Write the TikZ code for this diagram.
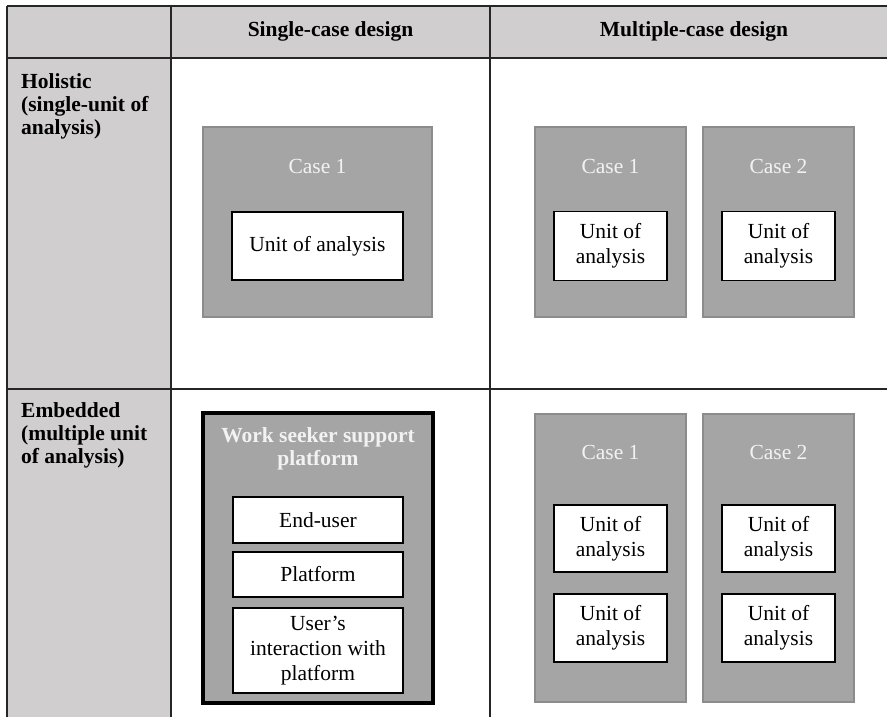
\documentclass[tikz,border=0pt]{standalone}
\usepackage{fontspec}
\setmainfont{Liberation Serif}
\definecolor{hdrfill}{HTML}{D0CECE}
\definecolor{casefill}{HTML}{A5A5A5}
\definecolor{caseline}{HTML}{8C8C8C}
\definecolor{casetext}{HTML}{F2F2F2}
\definecolor{gridline}{HTML}{262626}
\tikzset{
  grid/.style={draw=gridline, line width=2pt},
  casebox/.style={rectangle, fill=casefill, draw=caseline, line width=1.2pt, inner sep=0pt},
  platbox/.style={rectangle, fill=casefill, draw=black, line width=4pt, inner sep=0pt},
  unitbox/.style={rectangle, fill=white, draw=black, line width=1.4pt, inner sep=0pt, align=center,
     font=\fontsize{21.5}{25}\selectfont},
  casetitle/.style={text=casetext, font=\fontsize{21.5}{25}\selectfont, inner sep=0pt},
  plattitle/.style={text=casetext, font=\fontsize{21.5}{23}\selectfont\bfseries, align=center, inner sep=0pt},
  hdr/.style={font=\fontsize{21.5}{25}\selectfont\bfseries, inner sep=0pt},
  rowhdr/.style={font=\fontsize{21.5}{23}\selectfont\bfseries, align=left, inner sep=0pt, anchor=north west},
}
\begin{document}
\begin{tikzpicture}[x=1pt, y=-1pt]
\useasboundingbox (0,0) rectangle (887,717);
% table fills
\fill[hdrfill] (7,6) rectangle (887,58);
\fill[hdrfill] (7,58) rectangle (171,717);
% table lines
\coordinate (tl) at (7,6);
\coordinate (tr) at (887,6);
\coordinate (hl) at (7,58);
\coordinate (hr) at (887,58);
\coordinate (rl) at (7,389);
\coordinate (rr) at (887,389);
\coordinate (bl) at (7,717);
\coordinate (c1t) at (171,6);
\coordinate (c1b) at (171,717);
\coordinate (c2t) at (490,6);
\coordinate (c2b) at (490,717);
\draw[grid] (tl) -- (tr);
\draw[grid] (hl) -- (hr);
\draw[grid] (rl) -- (rr);
\draw[grid] (tl) -- (bl);
\draw[grid] (c1t) -- (c1b);
\draw[grid] (c2t) -- (c2b);
% headers
\node[hdr] (hsingle) at (330.5,31) {Single-case design};
\node[hdr] (hmulti) at (694,31) {Multiple-case design};
\node[rowhdr] (rhol) at (21,73) {Holistic\\(single-unit of\\analysis)};
\node[rowhdr] (remb) at (21,402) {Embedded\\(multiple unit\\of analysis)};
% holistic single
\node[casebox, minimum width=229pt, minimum height=190pt] (hs) at (317.5,222) {};
\node[casetitle] (hst) at (317.5,166) {Case 1};
\node[unitbox, minimum width=171pt, minimum height=68pt] (hsu) at (317.5,246) {Unit of analysis};
% holistic multiple
\node[casebox, minimum width=151pt, minimum height=190pt] (hm1) at (610.5,222) {};
\node[casebox, minimum width=151pt, minimum height=190pt] (hm2) at (778.5,222) {};
\node[casetitle] (hm1t) at (610.5,166) {Case 1};
\node[casetitle] (hm2t) at (778.5,166) {Case 2};
\node[unitbox, minimum width=113pt, minimum height=69pt] (hm1u) at (610.5,246) {Unit of\\analysis};
\node[unitbox, minimum width=113pt, minimum height=69pt] (hm2u) at (778.5,246) {Unit of\\analysis};
% embedded single
\node[platbox, minimum width=230pt, minimum height=290pt] (es) at (318,558) {};
\node[plattitle] (est) at (318,449) {Work seeker support\\platform};
\node[unitbox, minimum width=170pt, minimum height=46pt] (eu1) at (318,520) {End-user};
\node[unitbox, minimum width=170pt, minimum height=45pt] (eu2) at (318,574.5) {Platform};
\node[unitbox, minimum width=170pt, minimum height=85pt] (eu3) at (318,650.5) {User’s\\interaction with\\platform};
% embedded multiple
\node[casebox, minimum width=151pt, minimum height=288pt] (em1) at (610.5,558) {};
\node[casebox, minimum width=151pt, minimum height=288pt] (em2) at (778.5,558) {};
\node[casetitle] (em1t) at (610.5,452) {Case 1};
\node[casetitle] (em2t) at (778.5,452) {Case 2};
\node[unitbox, minimum width=113pt, minimum height=67pt] (em1a) at (610.5,538.5) {Unit of\\analysis};
\node[unitbox, minimum width=113pt, minimum height=68pt] (em1b) at (610.5,628) {Unit of\\analysis};
\node[unitbox, minimum width=113pt, minimum height=67pt] (em2a) at (778.5,538.5) {Unit of\\analysis};
\node[unitbox, minimum width=113pt, minimum height=68pt] (em2b) at (778.5,628) {Unit of\\analysis};
\end{tikzpicture}
\end{document}
